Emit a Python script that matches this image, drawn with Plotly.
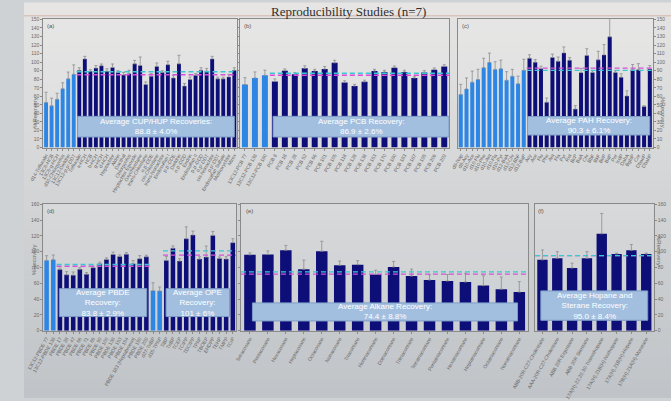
import plotly.graph_objects as go

# ---------------------------------------------------------------- data
# (a) current-use / historic-use pesticides
a_labels = ["d14-Trifluralin", "13C6-HCB", "13C6-g-HCH", "d10-Chlorpyrifos",
            "13C12-Dieldrin", "13C12-p,p'-DDT",
            "Trifluralin", "a-HCH", "HCB", "b-HCH", "g-HCH", "d-HCH", "Heptachlor",
            "Aldrin", "Dacthal", "Chlorpyrifos", "Heptachlor Epoxide", "Oxychlordane",
            "trans-Chlordane", "o,p'-DDE", "cis-Chlordane", "trans-Nonachlor",
            "Endosulfan I", "p,p'-DDE", "Dieldrin", "o,p'-DDD", "Endrin",
            "Endosulfan II", "p,p'-DDD", "o,p'-DDT", "cis-Nonachlor", "p,p'-DDT",
            "Endosulfan Sulfate", "Methoxychlor", "Mirex"]
a_roles = ["S"] * 6 + ["T"] * 29
a_values = [52.7, 48.8, 56.5, 68.8, 80.4, 85.8,
            90.4, 103.8, 89.2, 93.0, 95.8, 89.2, 93.8, 88.0, 85.0, 86.5,
            98.0, 96.0, 73.8, 83.5, 95.0, 88.0, 97.0, 81.5, 98.0, 72.0,
            79.6, 84.6, 90.4, 89.6, 103.8, 80.4, 80.4, 82.7, 90.4]
a_errors = [12, 9, 7, 7, 8, 11,
            3, 3, 2, 3, 2, 3, 4, 2, 3, 4, 4, 10, 3, 3, 4, 2, 4, 3, 10, 3,
            3, 2, 3, 3, 3, 2, 2, 3, 3]

# (b) PCBs
b_labels = ["13C12-PCB 77", "13C12-PCB 138", "13C12-PCB 180",
            "PCB 8", "PCB 18", "PCB 28", "PCB 52", "PCB 66", "PCB 101", "PCB 105",
            "PCB 118", "PCB 128", "PCB 138", "PCB 153", "PCB 170", "PCB 180",
            "PCB 183", "PCB 187", "PCB 195", "PCB 206", "PCB 209"]
b_roles = ["S"] * 3 + ["T"] * 18
b_values = [73.8, 81.5, 84.6,
            77.3, 90.0, 85.8, 92.7, 89.6, 91.9, 99.2, 76.2, 72.0, 76.9,
            89.6, 88.5, 93.5, 88.5, 81.5, 88.0, 91.2, 95.0]
b_errors = [8, 7, 6, 3, 2, 2, 3, 2, 3, 3, 2, 2, 2, 2, 2, 2, 2, 2, 2, 2, 2]

# (c) PAHs
c_labels = ["d8-Nap", "d8-Acy", "d10-Ace", "d10-Flu", "d10-Phe", "d10-Ant",
            "d10-Fla", "d10-Pyr", "d12-BaA", "d12-Chr", "d12-BbF", "d12-BaP",
            "Acy", "Ace", "Flu", "Phe", "Ant", "Fla", "Pyr", "Ret", "BcP", "BaA",
            "Chr", "BbF", "BkF", "BeP", "BaP", "Per", "IcdP", "DahA", "BghiP",
            "Cor", "DbaeP", "DbahP"]
c_roles = ["S"] * 12 + ["T"] * 22
c_values = [62.0, 68.5, 76.5, 79.6, 93.5, 99.6, 91.5, 92.3, 78.8, 83.5, 74.6, 90.4,
            104.6, 100.0, 92.3, 53.0, 105.4, 101.0, 110.8, 102.3, 45.0, 87.7,
            107.7, 88.0, 102.7, 108.5, 129.6, 88.0, 82.3, 60.4, 91.2, 91.2,
            48.0, 92.0]
c_errors = [12, 13, 13, 12, 11, 11, 9, 10, 10, 8, 9, 13,
            4, 3, 3, 5, 4, 5, 7, 3, 4, 5, 8, 2, 10, 12, 21, 2, 4, 6, 6, 7, 1, 4]

# (d) PBDEs and organophosphate esters
d_labels = ["13C12-PBDE 77", "13C12-PBDE 138",
            "PBDE 17", "PBDE 28", "PBDE 47", "PBDE 66", "PBDE 71", "PBDE 85",
            "PBDE 99", "PBDE 100", "PBDE 138", "PBDE 153", "PBDE 154",
            "PBDE 183 (Heptabromo)", "PBDE 190", "PBDE 209",
            "d27-TnBP", "d15-TPhP",
            "TiBP", "TnBP", "TCEP", "TCIPP", "TDCIPP", "TPhP", "TBOEP",
            "EHDPP", "TEHP", "TMPP", "TCrP"]
d_roles = ["S"] * 2 + ["T"] * 14 + ["S"] * 2 + ["T"] * 11
d_values = [88.9, 89.8,
            77.3, 70.7, 70.3, 77.7, 71.5, 79.8, 84.8, 90.2, 96.4, 93.9, 96.8,
            84.8, 91.0, 93.5,
            50.7, 50.3,
            88.9, 104.3, 88.1, 116.4, 121.0, 90.6, 93.1, 120.6, 91.4, 90.6, 111.4]
d_errors = [6, 6, 2, 4, 4, 2, 2, 2, 2, 2, 3, 2, 2, 4, 4, 2,
            10, 5, 5, 3, 3, 15, 5, 3, 14, 5, 2, 3, 5]

# (e) n-alkanes
e_labels = ["Tetracosane", "Pentacosane", "Hexacosane", "Heptacosane",
            "Octacosane", "Nonacosane", "Triacontane", "Hentriacontane",
            "Dotriacontane", "Tritriacontane", "Tetratriacontane",
            "Pentatriacontane", "Hexatriacontane", "Heptatriacontane",
            "Octatriacontane", "Nonatriacontane"]
e_roles = ["T"] * 16
e_values = [96.0, 96.5, 101.9, 77.8, 100.6, 82.8, 83.6, 71.2, 80.7, 69.2,
            64.2, 62.9, 61.7, 57.1, 52.6, 48.9]
e_errors = [2.5, 4.5, 6, 11.6, 12.5, 5.4, 5, 5.4, 7, 8.7, 6.6, 8.3, 11, 12.4,
            15.3, 13.2]

# (f) hopanes and steranes
f_labels = ["ABB-20R-C27-Cholestane", "AAA-20R-C27-Cholestane",
            "ABB 20R Ergostane", "ABB 20R Sitostane",
            "17A(H)-22,29,30-Trisnorhopane", "17A(H),21B(H)-Norhopane",
            "17A(H),21B(H)-Hopane", "17B(H),21A(H)-Moretane"]
f_roles = ["T"] * 8
f_values = [89.7, 91.7, 79.3, 91.7, 122.7, 97.1, 101.7, 97.1]
f_errors = [12.4, 8.3, 6.2, 8.3, 25.6, 1, 7.4, 1]

# group summaries: panel, first/last target index, mean, sd, median, caption
group_panel = ["a", "b", "c", "d", "d", "e", "f"]
group_first = [6, 3, 12, 2, 18, 0, 0]
group_last = [34, 20, 33, 15, 28, 15, 7]
group_mean = [88.8, 86.9, 90.3, 83.8, 101, 74.4, 95.0]
group_sd = [4.0, 2.6, 6.1, 2.9, 6, 8.8, 8.4]
group_median = [85.3, 84.6, 93.0, 81.5, 95.6, 71.6, 95.0]
group_caption = ["Average CUP/HUP Recoveries:", "Average PCB Recovery:",
                 "Average PAH Recovery:", "Average PBDE<br>Recovery:",
                 "Average OPE<br>Recovery:", "Average Alkane Recovery:",
                 "Average Hopane and<br>Sterane Recovery:"]
group_decimals = [1, 1, 1, 1, 0, 1, 1]

# ---------------------------------------------------------------- styling
W, H = 671, 401
NAVY = "#0e0e78"
LIGHT = "#2e86e4"
CYAN = "#3cc8d2"
MAGENTA = "#d94fd9"
BOX_FILL = "#a3bfe0"
BOX_LINE = "#7d9cc6"
AXIS_GREY = "#8a8a8a"
TICK_GREY = "#6a6a6a"


def hx(x0, x1):
    return [x0 / W, x1 / W]


def vy(top, bottom):
    return [1 - bottom / H, 1 - top / H]


# panel layout: axis suffix, data, horizontal / vertical extent, y range, label side
panels = {
    "a": dict(n=1, labels=a_labels, roles=a_roles, values=a_values, errors=a_errors,
              dom_x=hx(20, 221), dom_y=vy(16.7, 146.7), ymax=150, dtick=10,
              side="left", show=True, width=0.7,
              boxes=[(5.7, 34.0, 12.3, 36.5)]),
    "b": dict(n=2, labels=b_labels, roles=b_roles, values=b_values, errors=b_errors,
              dom_x=hx(224, 441), dom_y=vy(16.7, 146.7), ymax=150, dtick=10,
              side="left", show=False, width=0.6,
              boxes=[(2.82, 20.48, 12.3, 36.5)]),
    "c": dict(n=3, labels=c_labels, roles=c_roles, values=c_values, errors=c_errors,
              dom_x=hx(450, 652), dom_y=vy(16.7, 146.7), ymax=150, dtick=10,
              side="right", show=True, width=0.7,
              boxes=[(11.67, 33.0, 14.6, 36.3)]),
    "d": dict(n=4, labels=d_labels, roles=d_roles, values=d_values, errors=d_errors,
              dom_x=hx(20, 220), dom_y=vy(204.3, 332.7), ymax=160, dtick=20,
              side="left", show=True, width=0.68,
              boxes=[(1.92, 15.06, 17.9, 53.2), (17.96, 27.5, 17.9, 53.2)]),
    "e": dict(n=5, labels=e_labels, roles=e_roles, values=e_values, errors=e_errors,
              dom_x=hx(225, 523), dom_y=vy(204.3, 332.7), ymax=160, dtick=20,
              side="left", show=False, width=0.64,
              boxes=[(0.14, 14.9, 12.4, 35.2)]),
    "f": dict(n=6, labels=f_labels, roles=f_roles, values=f_values, errors=f_errors,
              dom_x=hx(530, 653), dom_y=vy(204.3, 332.7), ymax=160, dtick=20,
              side="right", show=True, width=0.7,
              boxes=[(-0.11, 7.1, 13.2, 50.4)]),
}


def axis_ids(n):
    return ("x" if n == 1 else f"x{n}", "y" if n == 1 else f"y{n}")


fig = go.Figure()
layout = dict(
    width=W, height=H,
    margin=dict(l=0, r=0, t=0, b=0),
    paper_bgcolor="#cfd2d5",
    plot_bgcolor="rgba(0,0,0,0)",
    showlegend=False,
    font=dict(family="Arial, Liberation Sans, sans-serif", color=TICK_GREY),
)
shapes = []
annotations = []

# soft vertical light falloff behind everything
steps = 40
top_rgb = (229, 228, 227)
bot_rgb = (192, 196, 200)
for i in range(steps):
    t = i / (steps - 1)
    c = tuple(round(top_rgb[k] + (bot_rgb[k] - top_rgb[k]) * t) for k in range(3))
    shapes.append(dict(type="rect", xref="paper", yref="paper", layer="below",
                       x0=0, x1=1, y0=1 - (i + 1) / steps, y1=1 - i / steps + 0.001,
                       fillcolor=f"rgb{c}", line=dict(width=0)))
# header band and its rule
shapes.append(dict(type="rect", xref="paper", yref="paper", layer="below",
                   x0=0, x1=1, y0=1 - 12.5 / H, y1=1,
                   fillcolor="#e7e5e3", line=dict(width=0)))
shapes.append(dict(type="line", xref="paper", yref="paper", layer="below",
                   x0=0, x1=1, y0=1 - 13 / H, y1=1 - 13 / H,
                   line=dict(color="rgba(205,170,160,0.8)", width=1)))

for key, p in panels.items():
    xa, ya = axis_ids(p["n"])
    n = len(p["values"])
    colors = [LIGHT if r == "S" else NAVY for r in p["roles"]]
    fig.add_trace(go.Bar(
        x=list(range(n)), y=p["values"], xaxis=xa, yaxis=ya,
        width=p["width"], marker=dict(color=colors, line=dict(width=0)),
        error_y=dict(type="data", symmetric=False, array=p["errors"],
                     arrayminus=[0] * n, color="#8d8d8d", thickness=0.8, width=1.5),
        hovertext=p["labels"],
    ))
    xkey = "xaxis" if p["n"] == 1 else f"xaxis{p['n']}"
    ykey = "yaxis" if p["n"] == 1 else f"yaxis{p['n']}"
    layout[xkey] = dict(
        domain=p["dom_x"], anchor=ya, range=[-0.5, n - 0.5],
        tickmode="array", tickvals=list(range(n)), ticktext=p["labels"],
        tickangle=-60, tickfont=dict(size=5, color=TICK_GREY),
        ticks="outside", ticklen=2, tickcolor=AXIS_GREY,
        showline=True, linecolor=AXIS_GREY, linewidth=1, mirror=True,
        showgrid=False, zeroline=False,
    )
    layout[ykey] = dict(
        domain=p["dom_y"], anchor=xa, range=[0, p["ymax"]], dtick=p["dtick"],
        side=p["side"], showticklabels=p["show"],
        tickfont=dict(size=5, color=TICK_GREY),
        ticks="outside", ticklen=2, tickcolor=AXIS_GREY,
        showline=True, linecolor=AXIS_GREY, linewidth=1, mirror=True,
        showgrid=False, zeroline=False,
    )
    # slight brightening of the plotting area
    shapes.append(dict(type="rect", xref=f"{xa} domain", yref=f"{ya} domain",
                       layer="below", x0=0, x1=1, y0=0, y1=1,
                       fillcolor="rgba(255,255,255,0.12)", line=dict(width=0)))
    # panel letter
    annotations.append(dict(xref=f"{xa} domain", yref=f"{ya} domain", x=0.01, y=0.985,
                            xanchor="left", yanchor="top", showarrow=False,
                            text=f"({key})", font=dict(size=6, color="#555555")))

# average / median reference lines and caption boxes
box_seen = {k: 0 for k in panels}
for g in range(len(group_panel)):
    key = group_panel[g]
    p = panels[key]
    xa, ya = axis_ids(p["n"])
    x_span = [group_first[g] - 0.5, group_last[g] + 0.5]
    fig.add_trace(go.Scatter(x=x_span, y=[group_median[g]] * 2, xaxis=xa, yaxis=ya,
                             mode="lines", hoverinfo="skip",
                             line=dict(color=MAGENTA, width=1.4, dash="5px,3px")))
    fig.add_trace(go.Scatter(x=x_span, y=[group_mean[g]] * 2, xaxis=xa, yaxis=ya,
                             mode="lines", hoverinfo="skip",
                             line=dict(color=CYAN, width=1.4, dash="5px,3px")))
    bx0, bx1, by0, by1 = p["boxes"][box_seen[key]]
    box_seen[key] += 1
    shapes.append(dict(type="rect", xref=xa, yref=ya, x0=bx0, x1=bx1, y0=by0, y1=by1,
                       fillcolor=BOX_FILL, line=dict(color=BOX_LINE, width=1)))
    dec = group_decimals[g]
    value_text = f"{group_mean[g]:.{dec}f} \u00b1 {group_sd[g]:.{dec}f}%"
    annotations.append(dict(xref=xa, yref=ya, x=(bx0 + bx1) / 2, y=(by0 + by1) / 2,
                            showarrow=False, align="center",
                            text=f"{group_caption[g]}<br>{value_text}",
                            font=dict(size=8, color="white")))

# axis titles
for x_px, y_px, ang in [(6, 93, -90), (6, 278, -90), (668, 93, 90), (664, 251, 90)]:
    annotations.append(dict(xref="paper", yref="paper", x=x_px / W, y=1 - y_px / H,
                            showarrow=False, text="%Recovery", textangle=ang,
                            font=dict(size=6, color=TICK_GREY)))

# slide heading, fitted inside the header band
annotations.append(dict(xref="paper", yref="paper", x=337 / W, y=1,
                        xanchor="center", yanchor="top", showarrow=False,
                        borderpad=0,
                        text="Reproducibility Studies (n=7)",
                        font=dict(family="Liberation Serif, DejaVu Serif, serif",
                                  size=13, color="#2f2f2f")))

layout["shapes"] = shapes
layout["annotations"] = annotations
fig.update_layout(**layout)
fig.write_html("out.html")
